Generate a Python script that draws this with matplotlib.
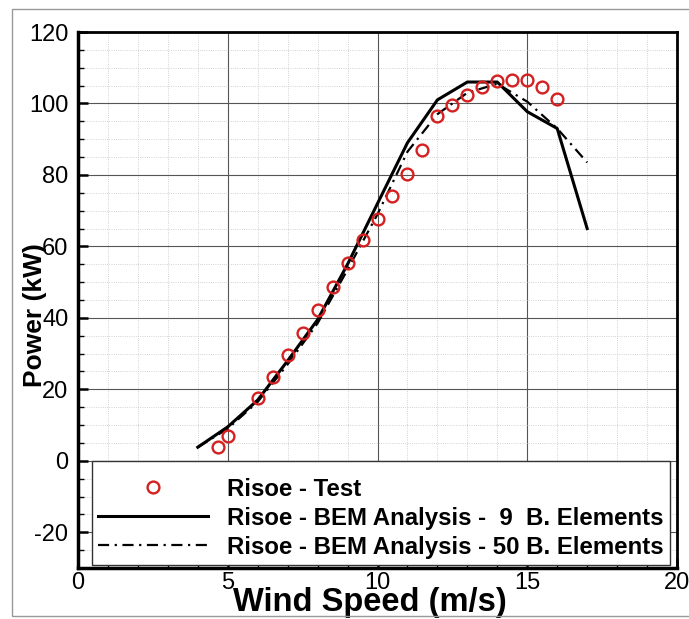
import matplotlib
matplotlib.use('Agg')
import matplotlib.pyplot as plt
from matplotlib.ticker import MultipleLocator
from matplotlib.patches import Rectangle

plt.rcParams['font.family'] = ['Liberation Sans', 'DejaVu Sans']
plt.rcParams['axes.unicode_minus'] = False

# data
test_ws = [4.67, 5.0, 6.0, 6.5, 7.0, 7.5, 8.0, 8.5, 9.0, 9.5, 10.0, 10.5,
           11.0, 11.5, 12.0, 12.5, 13.0, 13.5, 14.0, 14.5, 15.0, 15.5, 16.0]
test_power = [4.0, 6.9, 17.6, 23.5, 29.5, 35.7, 42.2, 48.6, 55.3, 61.8, 67.8, 74.0,
              80.2, 86.9, 96.6, 99.7, 102.5, 104.5, 106.3, 106.6, 106.6, 104.6, 101.2]

bem_ws = [4, 5, 6, 7, 8, 9, 10, 11, 12, 13, 14, 15, 16, 17]
bem9_power = [3.8, 9.5, 17.0, 28.0, 39.5, 55.0, 72.0, 89.0, 101.0, 106.0, 106.0, 97.7, 93.0, 65.0]
bem50_power = [3.8, 9.0, 16.5, 27.0, 38.5, 53.5, 69.0, 86.5, 97.0, 103.0, 105.5, 100.5, 93.0, 83.5]

labels = ['Risoe - Test',
          'Risoe - BEM Analysis -  9  B. Elements',
          'Risoe - BEM Analysis - 50 B. Elements']

fig = plt.figure(figsize=(6.89, 6.19), dpi=100)
ax = fig.add_axes([0.1132, 0.0824, 0.8694, 0.8659])

ax.plot(test_ws, test_power, 'o', mfc='none', mec='#d42020', mew=1.7, ms=8.5, label=labels[0], zorder=4)
ax.plot(bem_ws, bem9_power, '-', color='black', lw=2.2, label=labels[1], zorder=3)
ax.plot(bem_ws, bem50_power, color='black', lw=1.6, linestyle=(0, (5, 2.5, 1, 2.5)), label=labels[2], zorder=3)

ax.set_xlim(0, 20)
ax.set_ylim(-30, 120)
ax.xaxis.set_major_locator(MultipleLocator(5))
ax.xaxis.set_minor_locator(MultipleLocator(1))
ax.yaxis.set_major_locator(MultipleLocator(20))
ax.yaxis.set_minor_locator(MultipleLocator(5))

ax.grid(which='major', color='#555555', lw=0.8)
ax.grid(which='minor', color='#c4c4c4', lw=0.6, linestyle=':')
ax.set_axisbelow(True)

ax.tick_params(which='major', direction='in', length=7, width=1.8, labelsize=17)
ax.tick_params(axis='x', which='major', pad=3)
ax.tick_params(axis='y', which='major', pad=7)
ax.tick_params(which='minor', direction='in', length=4, width=1)
for s in ax.spines.values():
    s.set_linewidth(2)
ax.spines['left'].set_linewidth(2.5)
ax.spines['bottom'].set_linewidth(2.5)

ax.set_xlabel('Wind Speed (m/s)', fontsize=23.5, fontweight='bold')
ax.xaxis.set_label_coords(0.488, -0.036)
ax.xaxis.label.set_va('top')
ax.set_ylabel('Power (kW)', fontsize=19, fontweight='bold')
ax.yaxis.set_label_coords(-0.052, 0.472)

# tiny blank title gives the extra room above the first legend row
leg = ax.legend(loc='upper left', bbox_to_anchor=(0.023, 0.2), borderaxespad=0,
                prop={'weight': 'bold', 'size': 17.3}, handlelength=4.6,
                handletextpad=0.78, labelspacing=0.25, borderpad=0.25,
                title=' ', title_fontsize=3.5,
                fancybox=False, framealpha=1, edgecolor='#333333')
leg.get_frame().set_linewidth(1)

# outer frame of the picture
fig.add_artist(Rectangle((12 / 689, 3 / 619), 1.0, 1 - 12 / 619, transform=fig.transFigure,
                         fill=False, edgecolor='#999999', lw=1))

fig.savefig('out.png', dpi=100)
